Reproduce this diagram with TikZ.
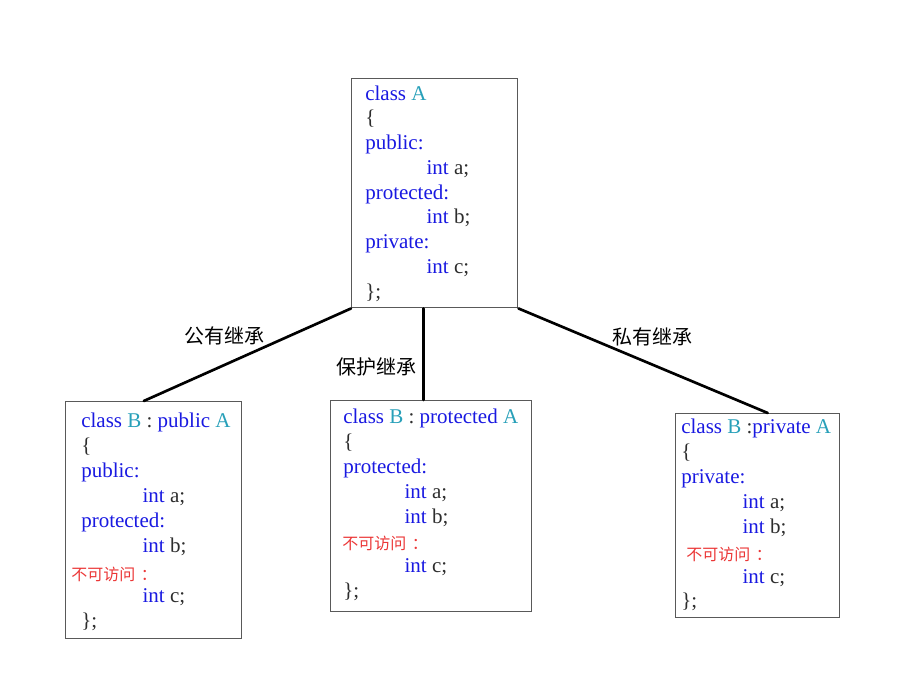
\documentclass[tikz,border=0pt]{standalone}
\usepackage{fontspec}
\setmainfont{Liberation Serif}
\newfontfamily\cjk{Noto Sans CJK SC}
\usetikzlibrary{positioning}
\definecolor{kwblue}{RGB}{25,25,225}
\definecolor{nmteal}{RGB}{40,160,185}
\definecolor{codedark}{RGB}{45,45,45}
\definecolor{noacc}{RGB}{235,55,55}
\newcommand{\kw}[1]{\textcolor{kwblue}{#1}}
\newcommand{\nm}[1]{\textcolor{nmteal}{#1}}
\newcommand{\ind}{\hspace*{46pt}}
\newcommand{\codefont}{\fontsize{15.75}{19}\selectfont}
\newcommand{\labfont}{\cjk\fontsize{15}{18}\selectfont}
\newcommand{\nafont}{\cjk\fontsize{12}{14}\selectfont}
\newcommand{\NoAccess}{不可访问\hspace{0.35em}：}
\tikzset{
  classbox/.style={draw=black!65, line width=1.1pt, inner sep=0pt, anchor=north west},
  codeline/.style={anchor=base west, inner sep=0pt, font=\codefont, text=codedark},
  noaccess/.style={anchor=base west, inner sep=0pt, font=\nafont, text=noacc},
  inherit/.style={line width=2pt, line cap=round},
  kindlabel/.style={inner sep=0pt, font=\labfont}
}
\begin{document}
\begin{tikzpicture}[x=0.75pt, y=-0.75pt]
  \useasboundingbox (0,0) rectangle (914,699);
  % base class
  \node[classbox, minimum width=124.5pt, minimum height=171.75pt] (A) at (351,78) {};
  \foreach \y/\txt [count=\i] in {100/{\kw{class} \nm{A}}, 124.75/\{,
      149.5/{\kw{public:}}, 174.25/{\ind\kw{int} a;}, 199/{\kw{protected:}},
      223.75/{\ind\kw{int} b;}, 248.5/{\kw{private:}}, 273.25/{\ind\kw{int} c;},
      298/\};}
    \node[codeline] (A-\i) at (365,\y) {\txt};
  % public inheritance
  \node[classbox, minimum width=132pt, minimum height=177.75pt] (pub) at (65,401) {};
  \foreach \y/\txt [count=\i] in {427/{\kw{class} \nm{B} : \kw{public} \nm{A}}, 452/\{,
      477/{\kw{public:}}, 502/{\ind\kw{int} a;}, 527/{\kw{protected:}},
      552/{\ind\kw{int} b;}, 602/{\ind\kw{int} c;}, 627/\};}
    \node[codeline] (pub-\i) at (81,\y) {\txt};
  \node[noaccess] (pubNo) at (71,580) {\NoAccess};
  % protected inheritance
  \node[classbox, minimum width=150.75pt, minimum height=158.25pt] (prot) at (330,400) {};
  \foreach \y/\txt [count=\i] in {423.5/{\kw{class} \nm{B} : \kw{protected} \nm{A}}, 448/\{,
      473/{\kw{protected:}}, 498/{\ind\kw{int} a;}, 523/{\ind\kw{int} b;},
      572/{\ind\kw{int} c;}, 597/\};}
    \node[codeline] (prot-\i) at (343,\y) {\txt};
  \node[noaccess] (protNo) at (342,549) {\NoAccess};
  % private inheritance
  \node[classbox, minimum width=123pt, minimum height=153pt] (priv) at (675,413) {};
  \foreach \y/\txt [count=\i] in {433/{\kw{class} \nm{B} :\kw{private} \nm{A}}, 458/\{,
      483/{\kw{private:}}, 508/{\ind\kw{int} a;}, 533/{\ind\kw{int} b;},
      583/{\ind\kw{int} c;}, 607/\};}
    \node[codeline] (priv-\i) at (681,\y) {\txt};
  \node[noaccess] (privNo) at (686,560) {\NoAccess};
  % connectors
  \path ([xshift=-8.25pt]A.south) coordinate (Amid);
  \draw[inherit] (A.south west) -- ([xshift=-7.5pt]pub.north);
  \draw[inherit] (Amid) -- (Amid |- prot.north);
  \draw[inherit] (A.south east) -- ([xshift=7.5pt]priv.north);
  \node[kindlabel] (pubLab) at (224,336) {公有继承};
  \node[kindlabel] (protLab) at (376,367) {保护继承};
  \node[kindlabel] (privLab) at (652,337) {私有继承};
\end{tikzpicture}
\end{document}
